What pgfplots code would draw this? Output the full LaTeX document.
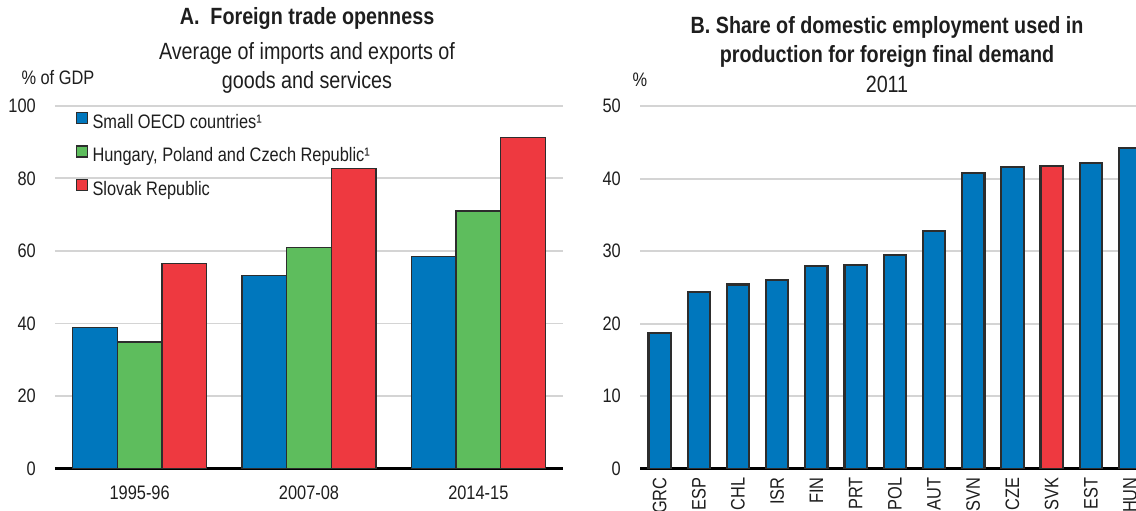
\documentclass[border=0pt]{standalone}
\usepackage{fontspec}
\setmainfont{Liberation Sans}[FakeStretch=0.84]
\usepackage{pgfplots}
\pgfplotsset{compat=1.18}
\definecolor{oblue}{RGB}{0,119,189}
\definecolor{ogreen}{RGB}{94,189,93}
\definecolor{ored}{RGB}{238,57,64}
\definecolor{edge}{RGB}{45,45,45}
\definecolor{gridc}{RGB}{212,212,212}
\definecolor{txt}{RGB}{30,30,30}
\newcommand{\tickfont}{\fontsize{19.5}{23}\selectfont}
\newcommand{\titlefont}{\fontsize{23.5}{28.5}\selectfont}
\begin{document}
\begin{tikzpicture}
\useasboundingbox (0pt,0pt) rectangle (1136pt,511pt);
\clip (0pt,0pt) rectangle (1136pt,511pt);
\pgfplotsset{
 base/.style={
  scale only axis, ymin=0,
  axis x line*=bottom, axis y line*=left,
  y axis line style={draw=none},
  x axis line style={-, line width=2.5pt, black},
  ymajorgrids, grid style={gridc, line width=1.8pt},
  major tick length=0pt, tick style={draw=none},
  ticklabel style={font=\tickfont, text=txt},
  /pgf/number format/assume math mode=true,
  yticklabel style={inner sep=0pt, xshift=-19pt},
 }
}
\begin{axis}[base, at={(55pt,42.3pt)}, anchor=south west,
  width=508pt, height=363pt,
  xmin=-0.5, xmax=2.5, ymax=100, ytick={0,20,...,100},
  xtick={0,1,2}, xticklabels={1995-96,2007-08,2014-15},
  xticklabel style={yshift=-14pt},
  ybar, bar width=0.264,
  legend cell align=left,
  legend style={at={(axis description cs:0,1)}, anchor=north west,
    xshift=21pt, yshift=-5.8pt, draw=none, fill=none, inner sep=0pt,
    font=\tickfont, text=txt, row sep=11pt, column sep=2pt,
    nodes={inner sep=2pt, text height=14pt, text depth=4pt}},
  legend image code/.code={\draw[#1, line width=1.3pt] (0pt,0pt) rectangle (11pt,11pt);},
]
\addplot[fill=oblue, draw=edge, line width=1.2pt, bar shift=-0.264]
  coordinates {(0,38.8) (1,53.2) (2,58.5)};
\addlegendentry{Small OECD countries¹}
\addplot[fill=ogreen, draw=edge, line width=1.2pt, bar shift=0]
  coordinates {(0,34.9) (1,60.9) (2,71.0)};
\addlegendentry{Hungary, Poland and Czech Republic¹}
\addplot[fill=ored, draw=edge, line width=1.2pt, bar shift=0.264]
  coordinates {(0,56.6) (1,82.6) (2,91.2)};
\addlegendentry{Slovak Republic}
\end{axis}
\begin{axis}[base, at={(640pt,42.3pt)}, anchor=south west,
  width=509.6pt, height=362.5pt,
  xmin=-0.5, xmax=12.5, ymax=50, ytick={0,10,...,50},
  xtick={0,...,12},
  xticklabels={GRC,ESP,CHL,ISR,FIN,PRT,POL,AUT,SVN,CZE,SVK,EST,HUN},
  xticklabel style={rotate=90, anchor=east, inner sep=8.5pt},
  ybar, bar width=0.571,
]
\addplot[fill=oblue, draw=edge, line width=2.2pt, bar shift=0]
  coordinates {(0,18.7) (1,24.4) (2,25.4) (3,26.0) (4,28.0) (5,28.1) (6,29.5)
   (7,32.8) (8,40.8) (9,41.6) (11,42.2) (12,44.2)};
\addplot[fill=ored, draw=edge, line width=2.2pt, bar shift=0]
  coordinates {(10,41.7)};
\end{axis}
\node[font=\titlefont\bfseries, text=txt] at (307pt,493pt) {A.\ \ Foreign trade openness};
\node[font=\titlefont, text=txt, align=center] at (307pt,443pt) {Average of imports and exports of\\goods and services};
\node[font=\tickfont, text=txt, anchor=west] at (18pt,433pt) {\% of GDP};
\node[font=\titlefont\bfseries, text=txt, align=center] at (887pt,469pt) {B. Share of domestic employment used in\\production for foreign final demand};
\node[font=\titlefont, text=txt] at (887pt,427pt) {2011};
\node[font=\tickfont, text=txt] at (640pt,431pt) {\%};
\end{tikzpicture}
\end{document}
